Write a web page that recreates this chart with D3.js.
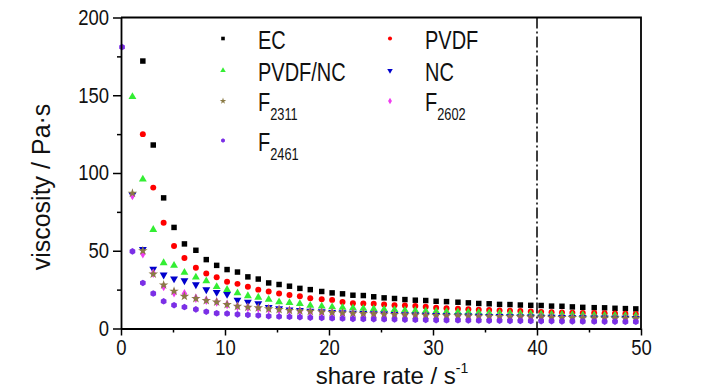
<!DOCTYPE html>
<html>
<head>
<meta charset="utf-8">
<script src="https://cdn.jsdelivr.net/npm/d3@7"></script>
<style>
  body { margin: 0; background: #fff; }
  svg { display: block; font-family: "Liberation Sans", Arial, sans-serif; }
</style>
</head>
<body>
<div id="chart"></div>
<script>
// shear rate (s^-1) of each measured point
const shareRate = [0.1,1.1,2.1,3.1,4.1,5.1,6.1,7.2,8.2,9.2,10.2,11.2,12.2,13.2,14.2,15.2,16.2,17.2,18.2,19.3,
  20.3,21.3,22.3,23.3,24.3,25.3,26.3,27.3,28.3,29.3,30.3,31.3,32.4,33.4,34.4,35.4,36.4,37.4,38.4,39.4,
  40.4,41.4,42.4,43.4,44.4,45.5,46.5,47.5,48.5,49.5];

// viscosity (Pa.s), null = off the top of the plot
const ecVisc = [null,null,172,118,84,65,54.4,50.3,44.3,40.6,37.9,36.3,33.2,31.8,29.3,28.3,27.2,25.8,25,23.8,
  22.9,22.3,21.4,21.2,20.4,19.7,19.3,18.6,18.2,18.0,17.5,17.3,16.9,16.5,16.1,15.9,15.5,15.4,15.1,14.9,
  14.8,14.4,14.3,13.9,13.6,13.4,13.3,13.0,12.8,12.6];
const pvdfVisc = [null,null,125,90.6,68,53,45.4,39,35.3,33,30,28.7,26.8,25,23.8,22.5,21.6,20.7,19.5,18.8,
  18.4,17.1,16.3,16.1,15.9,15.4,15.0,14.8,14.5,14.0,13.4,13.0,12.7,12.4,12.1,11.9,11.6,11.4,11.2,11.0,
  10.7,10.5,10.3,10.2,10.0,9.9,9.8,9.7,9.5,9.4];
const pvdfNcVisc = [null,149,96,63.6,42.2,40.5,36,33,30.5,26.8,25,22.8,21,20,18.6,17,16.5,15.9,14.8,14.3,
  13.8,13.5,13.2,12.9,12.6,12.3,12.0,11.7,11.5,11.2,11.0,10.8,10.6,10.4,10.2,10.0,9.8,9.7,9.5,9.3,
  9.2,9.0,8.9,8.8,8.6,8.5,8.4,8.3,8.2,8.1];
const ncVisc = [null,86,51,38.3,34.5,32,30.8,28.2,25,23.3,22,18.3,17,16,13.7,12.8,12.1,11.7,11.3,10.9,
  10.5,10.2,10.0,9.8,9.6,9.4,9.2,9.0,8.8,8.7,8.5,8.4,8.2,8.1,8.0,7.9,7.8,7.7,7.6,7.5,
  7.4,7.3,7.2,7.1,7.0,6.9,6.9,6.8,6.7,6.6];
const f2311Visc = [null,87,50,35,28,24,20.7,19.3,18,17,15.4,14.3,13.7,13.3,12.6,12.2,11.6,11.3,11.0,10.6,
  10.3,10.0,9.8,9.6,9.4,9.2,9.0,8.8,8.7,8.5,8.4,8.2,8.1,8.0,7.9,7.8,7.7,7.6,7.5,7.4,
  7.3,7.2,7.1,7.0,6.9,6.8,6.8,6.7,6.6,6.5];
const f2602Visc = [null,85.6,48,35.5,27,23,22.3,19.5,18.2,17,15.4,14.2,13.5,13.1,12.5,12.0,11.5,11.1,10.8,10.4,
  10.1,9.8,9.6,9.4,9.2,9.0,8.8,8.6,8.4,8.3,8.1,8.0,7.8,7.7,7.6,7.5,7.4,7.3,7.2,7.1,
  7.0,6.9,6.8,6.7,6.6,6.5,6.4,6.3,6.2,6.1];
const f2461Visc = [181,49.6,29.3,22.5,17.5,15,13.8,12.3,10.8,9.8,9.6,9.1,8.7,8.4,7.9,7.7,7.5,7.3,7.0,6.8,
  6.6,6.4,6.2,6.1,6.0,5.9,5.8,5.7,5.6,5.5,5.4,5.3,5.3,5.2,5.1,5.0,5.0,4.9,4.9,4.8,
  4.7,4.7,4.6,4.6,4.5,4.5,4.4,4.4,4.3,4.3];

const xTicks = [0,10,20,30,40,50];
const xMinor = [5,15,25,35,45];
const yTicks = [0,50,100,150,200];
const yMinor = [25,75,125,175];
const markLine = 40;

const hexagon = {
  draw(context, size) {
    const r = Math.sqrt(size / (3 * Math.sqrt(3) / 2));
    for (let i = 0; i < 6; i++) {
      const a = Math.PI / 6 + i * Math.PI / 3;
      const px = r * Math.cos(a), py = r * Math.sin(a);
      if (i === 0) context.moveTo(px, py); else context.lineTo(px, py);
    }
    context.closePath();
  }
};

// legend position is [column,row]
const series = [
  {name: "EC", sub: "", values: ecVisc, color: "#000000", type: d3.symbolSquare, size: 30, rot: 0, col: 0, row: 0},
  {name: "PVDF", sub: "", values: pvdfVisc, color: "#ff0000", type: d3.symbolCircle, size: 28, rot: 0, col: 1, row: 0},
  {name: "PVDF/NC", sub: "", values: pvdfNcVisc, color: "#33ee33", type: d3.symbolTriangle, size: 27, rot: 0, col: 0, row: 1},
  {name: "NC", sub: "", values: ncVisc, color: "#0000cc", type: d3.symbolTriangle, size: 27, rot: 180, col: 1, row: 1},
  {name: "F", sub: "2602", values: f2602Visc, color: "#f03cf0", type: d3.symbolDiamond, size: 26, rot: 0, col: 1, row: 2},
  {name: "F", sub: "2311", values: f2311Visc, color: "#8a7a45", type: d3.symbolStar, size: 28, rot: 0, col: 0, row: 2},
  {name: "F", sub: "2461", values: f2461Visc, color: "#7b2fe6", type: hexagon, size: 28, rot: 0, col: 0, row: 3}
];

const width = 728, height = 390;
const plotL = 121, plotR = 641, plotT = 17.5, plotB = 328.5;

const svg = d3.select("#chart").append("svg")
  .attr("width", width).attr("height", height);

const x = d3.scaleLinear().domain([0, 50]).range([plotL, plotR]);
const y = d3.scaleLinear().domain([0, 200]).range([plotB, plotT]);

// points
const pts = svg.append("g");
series.forEach(s => {
  const sym = d3.symbol().type(s.type).size(s.size);
  pts.append("g").selectAll("path")
    .data(s.values.map((v, i) => ({x: shareRate[i], v})).filter(d => d.v != null && d.v <= 200))
    .join("path")
      .attr("transform", d => `translate(${x(d.x)},${y(d.v)}) rotate(${s.rot})`)
      .attr("d", sym)
      .attr("fill", s.color);
});

// dash-dot line at 40 s^-1
svg.append("line")
  .attr("x1", x(markLine)).attr("x2", x(markLine))
  .attr("y1", plotT).attr("y2", plotB)
  .attr("stroke", "#000").attr("stroke-width", 1.5)
  .attr("stroke-dasharray", "11,3,2,3");

// axes
const xAx = svg.append("g").attr("transform", `translate(0,${plotB})`)
  .call(d3.axisBottom(x).tickValues(xTicks).tickSize(7).tickSizeOuter(0).tickPadding(4));
svg.append("g").attr("transform", `translate(0,${plotB})`)
  .call(d3.axisBottom(x).tickValues(xMinor).tickSize(4).tickFormat(""))
  .call(g => g.select(".domain").remove());
const yAx = svg.append("g").attr("transform", `translate(${plotL},0)`)
  .call(d3.axisLeft(y).tickValues(yTicks).tickSize(8).tickSizeOuter(0).tickPadding(4));
svg.append("g").attr("transform", `translate(${plotL},0)`)
  .call(d3.axisLeft(y).tickValues(yMinor).tickSize(4).tickFormat(""))
  .call(g => g.select(".domain").remove());

svg.selectAll(".tick line").attr("stroke-width", 1.5);
svg.selectAll(".domain").attr("stroke-width", 1.8);
svg.selectAll(".tick text").attr("font-size", 21.5).attr("font-family", "'Liberation Sans', Arial, sans-serif").attr("fill", "#111");
// the tick numbers are a bit condensed in the original
xAx.selectAll(".tick text").attr("transform", "scale(0.86,1)");
yAx.selectAll(".tick text").attr("transform", "scale(0.86,1)").attr("x", -12 / 0.86);

// top and right frame
svg.append("path")
  .attr("d", `M${plotL},${plotT}H${plotR}V${plotB}`)
  .attr("fill", "none").attr("stroke", "#000").attr("stroke-width", 1.8);

// axis titles
const xt = svg.append("text")
  .attr("x", 392).attr("y", 384)
  .attr("text-anchor", "middle").attr("font-size", 24).attr("fill", "#111");
xt.append("tspan").text("share rate / s");
xt.append("tspan").attr("font-size", 14).attr("dy", -11).text("-1");

svg.append("text")
  .attr("transform", `translate(50,187) rotate(-90)`)
  .attr("text-anchor", "middle").attr("font-size", 25).attr("fill", "#111")
  .text("viscosity / Pa·s");

// legend
const legX = [223, 390], legTxt = [258, 425], legRow = [38.5, 70.5, 101, 140.5];
const leg = svg.append("g");
series.forEach(s => {
  const cy = legRow[s.row];
  leg.append("path")
    .attr("transform", `translate(${legX[s.col]},${cy}) rotate(${s.rot})`)
    .attr("d", d3.symbol().type(s.type).size(13))
    .attr("fill", s.color);
  const t = leg.append("text")
    .attr("transform", `translate(${legTxt[s.col]},${cy + 10}) scale(0.8,1)`)
    .attr("font-size", 25).attr("fill", "#111");
  t.append("tspan").text(s.name);
  if (s.sub) t.append("tspan").attr("font-size", 16).attr("dy", 9).text(s.sub);
});
</script>
</body>
</html>
